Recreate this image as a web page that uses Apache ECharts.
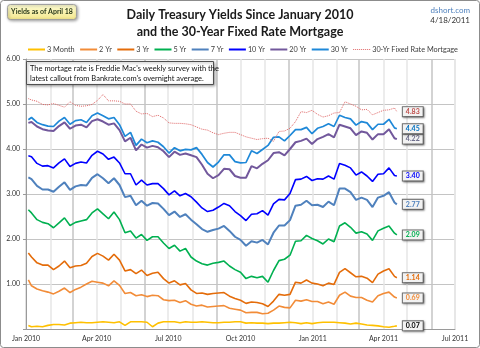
<!DOCTYPE html>
<html><head><meta charset="utf-8">
<script src="https://cdn.jsdelivr.net/npm/echarts@6/dist/echarts.min.js"></script>
<style>html,body{margin:0;padding:0;background:#fff}#c{width:480px;height:348px}</style>
</head><body><div id="c"></div>
<script>
// Weekly observation dates (Fridays), first and last actual dates
const dates = [
 '2010-01-04','2010-01-08','2010-01-15','2010-01-22','2010-01-29',
 '2010-02-05','2010-02-12','2010-02-19','2010-02-26',
 '2010-03-05','2010-03-12','2010-03-19','2010-03-26',
 '2010-04-02','2010-04-09','2010-04-16','2010-04-23','2010-04-30',
 '2010-05-07','2010-05-14','2010-05-21','2010-05-28',
 '2010-06-04','2010-06-11','2010-06-18','2010-06-25',
 '2010-07-02','2010-07-09','2010-07-16','2010-07-23','2010-07-30',
 '2010-08-06','2010-08-13','2010-08-20','2010-08-27',
 '2010-09-03','2010-09-10','2010-09-17','2010-09-24',
 '2010-10-01','2010-10-08','2010-10-15','2010-10-22','2010-10-29',
 '2010-11-05','2010-11-12','2010-11-19','2010-11-26',
 '2010-12-03','2010-12-10','2010-12-17','2010-12-24','2010-12-31',
 '2011-01-07','2011-01-14','2011-01-21','2011-01-28',
 '2011-02-04','2011-02-11','2011-02-18','2011-02-25',
 '2011-03-04','2011-03-11','2011-03-18','2011-03-25',
 '2011-04-01','2011-04-08','2011-04-15','2011-04-18'
];
const month3 = [0.08,0.05,0.06,0.05,0.08, 0.10,0.10,0.09,0.13, 0.14,0.15,0.14,0.14, 0.15,0.16,0.15,0.14,0.16,
 0.08,0.16,0.16,0.16, 0.15,0.05,0.13,0.16, 0.16,0.16,0.14,0.16,0.15, 0.15,0.16,0.15,0.14, 0.14,0.15,0.15,0.16,
 0.16,0.13,0.14,0.13,0.13, 0.12,0.13,0.13,0.14, 0.15,0.14,0.12,0.14,0.12, 0.14,0.15,0.15,0.15, 0.14,0.13,0.11,0.13,
 0.11,0.09,0.08,0.07, 0.05,0.04,0.06,0.07];
const yr2 = [1.09,0.96,0.89,0.85,0.82, 0.78,0.84,0.91,0.81, 0.88,0.93,1.00,1.06, 1.04,1.02,0.96,1.07,0.97,
 0.79,0.81,0.74,0.76, 0.72,0.75,0.74,0.65, 0.63,0.64,0.59,0.63,0.55, 0.51,0.53,0.49,0.50, 0.51,0.52,0.46,0.44,
 0.42,0.36,0.37,0.37,0.34, 0.35,0.42,0.51,0.48, 0.47,0.64,0.62,0.65,0.61, 0.61,0.56,0.60,0.55, 0.75,0.82,0.73,0.70,
 0.70,0.64,0.60,0.74, 0.79,0.82,0.71,0.69];
const yr3 = [1.69,1.60,1.47,1.42,1.42, 1.32,1.40,1.51,1.36, 1.40,1.41,1.46,1.61, 1.68,1.62,1.53,1.66,1.53,
 1.29,1.32,1.23,1.31, 1.19,1.24,1.26,1.12, 1.02,1.07,0.98,1.01,0.87, 0.79,0.80,0.77,0.79, 0.80,0.81,0.73,0.68,
 0.64,0.57,0.60,0.59,0.56, 0.50,0.62,0.77,0.75, 0.77,1.04,1.02,1.09,1.02, 1.00,0.96,1.02,0.99, 1.26,1.34,1.25,1.16,
 1.17,1.13,1.03,1.22, 1.29,1.34,1.17,1.14];
const yr5 = [2.65,2.58,2.43,2.37,2.34, 2.25,2.36,2.47,2.30, 2.37,2.40,2.43,2.58, 2.67,2.56,2.45,2.60,2.43,
 2.14,2.18,2.02,2.10, 1.97,2.05,2.05,1.91, 1.79,1.86,1.73,1.79,1.60, 1.51,1.45,1.42,1.46, 1.48,1.51,1.40,1.32,
 1.26,1.12,1.17,1.14,1.17, 1.04,1.30,1.52,1.55, 1.64,1.95,1.96,2.08,2.01, 1.96,1.89,2.00,1.94, 2.29,2.36,2.26,2.13,
 2.16,2.11,1.97,2.18, 2.24,2.29,2.13,2.09];
const yr7 = [3.37,3.33,3.18,3.10,3.10, 3.05,3.16,3.26,3.09, 3.17,3.20,3.19,3.36, 3.44,3.35,3.24,3.35,3.20,
 2.93,2.96,2.75,2.85, 2.74,2.80,2.79,2.67, 2.53,2.61,2.49,2.55,2.43, 2.33,2.22,2.16,2.20, 2.23,2.29,2.18,2.05,
 1.98,1.85,1.95,1.92,1.98, 1.88,2.14,2.30,2.30, 2.42,2.74,2.76,2.85,2.75, 2.76,2.71,2.83,2.75, 3.12,3.12,3.04,2.87,
 2.92,2.87,2.71,2.92, 2.96,3.04,2.81,2.77];
const yr10 = [3.85,3.83,3.68,3.62,3.63, 3.58,3.69,3.78,3.61, 3.68,3.71,3.69,3.86, 3.95,3.89,3.77,3.82,3.69,
 3.45,3.45,3.20,3.31, 3.20,3.23,3.23,3.12, 2.98,3.07,2.96,3.01,2.94, 2.82,2.69,2.61,2.64, 2.71,2.79,2.74,2.61,
 2.52,2.41,2.55,2.56,2.63, 2.53,2.78,2.88,2.87, 3.01,3.32,3.33,3.39,3.30, 3.34,3.33,3.40,3.33, 3.68,3.64,3.58,3.42,
 3.49,3.40,3.28,3.44, 3.45,3.58,3.41,3.40];
const yr20 = [4.58,4.60,4.50,4.44,4.41, 4.40,4.51,4.59,4.45, 4.52,4.54,4.48,4.62, 4.66,4.61,4.54,4.57,4.42,
 4.17,4.25,3.97,4.10, 4.03,4.07,4.04,3.95, 3.82,3.94,3.87,3.90,3.86, 3.82,3.65,3.45,3.35, 3.42,3.56,3.55,3.40,
 3.36,3.36,3.62,3.57,3.67, 3.75,3.91,3.93,3.86, 4.00,4.15,4.18,4.23,4.11, 4.22,4.27,4.33,4.26, 4.54,4.50,4.46,4.31,
 4.39,4.36,4.21,4.33, 4.33,4.44,4.24,4.22];
const yr30 = [4.65,4.70,4.59,4.54,4.51, 4.50,4.62,4.70,4.55, 4.63,4.65,4.59,4.74, 4.80,4.74,4.67,4.70,4.54,
 4.28,4.37,4.08,4.22, 4.14,4.18,4.15,4.05, 3.91,4.03,3.96,3.99,3.98, 4.03,3.88,3.70,3.60, 3.71,3.87,3.87,3.72,
 3.69,3.70,3.96,3.90,3.99, 4.08,4.26,4.27,4.18, 4.30,4.43,4.43,4.48,4.34, 4.46,4.50,4.56,4.50, 4.75,4.70,4.67,4.53,
 4.61,4.58,4.43,4.55, 4.55,4.66,4.47,4.45];
const mortgage = [5.12,5.09,5.06,4.99,4.98, 5.01,4.97,4.93,5.05, 4.97,4.95,4.96,4.99, 5.08,5.21,5.07,5.07,5.06,
 5.00,5.00,4.84,4.78, 4.79,4.72,4.75,4.69, 4.58,4.57,4.57,4.56,4.54, 4.49,4.44,4.42,4.36, 4.32,4.35,4.37,4.37,
 4.32,4.27,4.24,4.21,4.23, 4.24,4.17,4.39,4.40, 4.46,4.61,4.83,4.81,4.86, 4.77,4.71,4.74,4.80, 4.81,5.05,5.00,4.95,
 4.87,4.88,4.76,4.81, 4.86,4.87,4.91,4.83];
const seriesNames = ['3 Month','2 Yr','3 Yr','5 Yr','7 Yr','10 Yr','20 Yr','30 Yr','30-Yr Fixed Rate Mortgage'];
const seriesValues = [month3, yr2, yr3, yr5, yr7, yr10, yr20, yr30, mortgage];
const monthNames = ['Jan','Feb','Mar','Apr','May','Jun','Jul','Aug','Sep','Oct','Nov','Dec'];

const lineColors = ['#FFC000','#F28C38','#E46C0A','#00B050','#4F81BD','#0000FF','#72589C','#1E88D8','#E06666'];
const labelColors = ['#000000','#F28C38','#E46C0A','#00B050','#4F81BD','#0000FF','#6A6A8A','#0070C0','#C0504D'];
const lineWidths = [1.6,1.6,1.6,1.6,2,1.6,2,1.7,1];
const FONT = 'Lato, "Open Sans", sans-serif';
const DOTTED_ICON = 'path://M0,0h2v2h-2z M4,0h2v2h-2z M8,0h2v2h-2z M12,0h2v2h-2z M16,0h2v2h-2z M20,0h2v2h-2z M24,0h2v2h-2z M28,0h2v2h-2z M32,0h2v2h-2z';

const chart = echarts.init(document.getElementById('c'), null, {renderer:'canvas'});
const series = seriesNames.map((name, i) => ({
  name: name,
  type: 'line',
  symbol: 'none',
  showSymbol: false,
  data: dates.map((d, k) => [d, seriesValues[i][k]]),
  lineStyle: {color: lineColors[i], width: lineWidths[i], type: i === 8 ? 'dotted' : 'solid'},
  itemStyle: {color: lineColors[i]},
  z: 2,
  endLabel: {
    show: true,
    distance: 6,
    formatter: p => p.value[1].toFixed(2),
    fontFamily: FONT, fontSize: 7, fontWeight: 'bold',
    color: labelColors[i],
    backgroundColor: '#f2f2f2',
    borderColor: '#707070', borderWidth: 1,
    padding: [1, 3, 1, 3],
    shadowColor: 'rgba(0,0,0,0.35)', shadowBlur: 2, shadowOffsetX: 1, shadowOffsetY: 1
  }
}));

chart.setOption({
  animation: false,
  backgroundColor: '#fff',
  title: {
    text: 'Daily Treasury Yields Since January 2010\nand the 30-Year Fixed Rate Mortgage',
    left: 'center', top: 1,
    textStyle: {fontFamily: FONT, fontSize: 12.5, fontWeight: 'bold', color: '#1a1a1a', lineHeight: 17}
  },
  legend: {
    data: seriesNames.map((n, i) => ({name: n, icon: i === 8 ? DOTTED_ICON : 'rect'})),
    top: 46, left: 28,
    padding: 0,
    itemWidth: 17, itemHeight: 2, itemGap: 5.5,
    textStyle: {fontFamily: FONT, fontSize: 7.3, color: '#404040', padding: [0, 0, 0, -3]}
  },
  grid: {left: 26, right: 25, top: 59, bottom: 19},
  xAxis: {
    type: 'time',
    min: '2010-01-01', max: '2011-07-01',
    minInterval: 27 * 864e5, maxInterval: 32 * 864e5, splitNumber: 18,
    axisLine: {lineStyle: {color: '#9a9a9a'}},
    axisTick: {show: false},
    axisLabel: {
      interval: 0, hideOverlap: false, margin: 6,
      fontFamily: FONT, fontSize: 7, color: '#333',
      formatter: v => { const d = new Date(v); const m = d.getMonth(); return (m % 3 === 0 && d.getDate() === 1) ? monthNames[m] + ' ' + d.getFullYear() : ''; }
    },
    splitLine: {show: true, lineStyle: {color: ['#c4c4c4', '#e6e6e6', '#e6e6e6'], width: 1.5}}
  },
  yAxis: {
    type: 'value', min: 0, max: 6, interval: 1,
    axisLine: {show: true, lineStyle: {color: '#9a9a9a'}},
    axisTick: {show: true, length: 3, lineStyle: {color: '#9a9a9a'}},
    axisLabel: {margin: 6, fontFamily: FONT, fontSize: 7, color: '#333', formatter: v => v === 0 ? '' : v.toFixed(2)},
    splitLine: {lineStyle: {color: '#c4c4c4'}}
  },
  graphic: [
    {type: 'rect', z: 0, silent: true, shape: {x: 0.5, y: 0.5, width: 479, height: 347, r: 3}, style: {fill: 'none', stroke: '#8c8c8c', lineWidth: 1}},
    {type: 'rect', z: 100, shape: {x: 7.5, y: 4.5, width: 69, height: 15, r: 3},
      style: {fill: new echarts.graphic.LinearGradient(0, 0, 0, 1, [{offset: 0, color: '#ffffd8'}, {offset: 1, color: '#f3e68a'}]),
        stroke: '#a0a0a0', lineWidth: 1, shadowBlur: 3, shadowOffsetX: 1, shadowOffsetY: 1, shadowColor: 'rgba(0,0,0,0.35)'}},
    {type: 'text', z: 101, x: 42, y: 12, style: {text: 'Yields as of April 18', fontFamily: FONT, fontSize: 7, fontWeight: 'bold', fill: '#2b3a1a', align: 'center', verticalAlign: 'middle'}},
    {type: 'text', z: 101, x: 470, y: 10, style: {text: 'dshort.com', fontFamily: FONT, fontSize: 8, fill: '#4F81BD', align: 'right', verticalAlign: 'middle'}},
    {type: 'text', z: 101, x: 470, y: 20, style: {text: '4/18/2011', fontFamily: FONT, fontSize: 8, fill: '#333', align: 'right', verticalAlign: 'middle'}},
    {type: 'rect', z: 100, shape: {x: 26.5, y: 61.5, width: 187, height: 23},
      style: {fill: '#fff', stroke: '#505050', lineWidth: 1, shadowBlur: 3, shadowOffsetX: 1, shadowOffsetY: 1, shadowColor: 'rgba(0,0,0,0.4)'}},
    {type: 'text', z: 101, x: 30, y: 63.5, style: {text: "The mortage rate is Freddie Mac's weekly survey with the\nlatest callout from Bankrate.com's overnight average.", fontFamily: FONT, fontSize: 7.5, lineHeight: 10, fill: '#111', align: 'left', verticalAlign: 'top'}}
  ],
  series: series
});
</script></body></html>
